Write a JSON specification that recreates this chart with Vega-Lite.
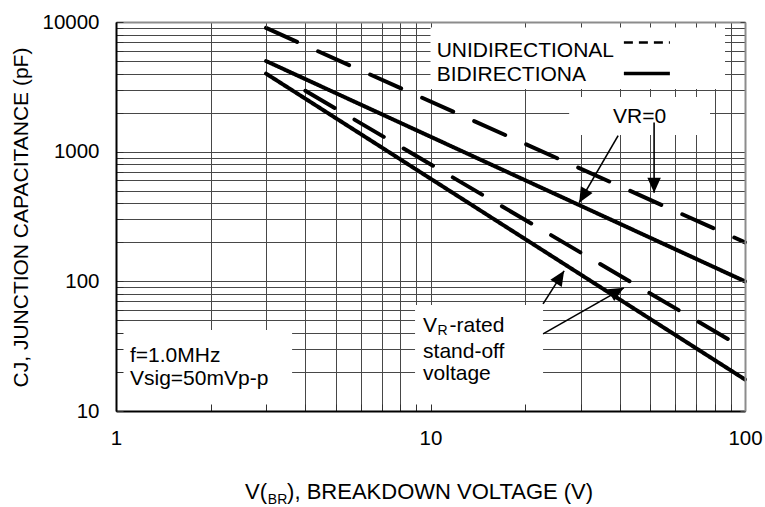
{
  "$schema": "https://vega.github.io/schema/vega-lite/v6.json",
  "width": 629,
  "height": 389,
  "autosize": "none",
  "padding": {"left": 116, "top": 22, "right": 20, "bottom": 96},
  "background": "white",
  "config": {"view": {"stroke": null}, "font": "Liberation Sans", "text": {"font": "Liberation Sans", "color": "black"}},
  "datasets": {
    "curves": [
      {"series": "Uni VR=0", "type": "dashed", "V": 3, "C": 9000},
      {"series": "Uni VR=0", "type": "dashed", "V": 100, "C": 200},
      {"series": "Bi VR=0", "type": "solid", "V": 3, "C": 5000},
      {"series": "Bi VR=0", "type": "solid", "V": 100, "C": 100},
      {"series": "Uni VR rated", "type": "dashed", "V": 4, "C": 2950},
      {"series": "Uni VR rated", "type": "dashed", "V": 100, "C": 30},
      {"series": "Bi VR rated", "type": "solid", "V": 3, "C": 4000},
      {"series": "Bi VR rated", "type": "solid", "V": 100, "C": 17.5}
    ],
    "boxes": [
      {"box": "legend", "x1": 10, "x2": 86.4, "y1": 3044, "y2": 9150},
      {"box": "vr0", "x1": 27.6, "x2": 77.4, "y1": 1345, "y2": 2640},
      {"box": "vrrated", "x1": 8.93, "x2": 22.8, "y1": 10, "y2": 65.7},
      {"box": "cond", "x1": 1, "x2": 3.63, "y1": 10, "y2": 42.1}
    ],
    "legendLines": [
      {"type": "dashed", "x1": 41.2, "x2": 57.7, "y": 6946},
      {"type": "solid", "x1": 41.2, "x2": 57.7, "y": 4002}
    ],
    "arrows": [
      {"id": "A1", "x": 39.5, "y": 1329, "x2": 29.7, "y2": 404},
      {"id": "A2", "x": 51.4, "y": 1675, "x2": 51.4, "y2": 483},
      {"id": "A3", "x": 22.8, "y": 67.0, "x2": 26.6, "y2": 120.5},
      {"id": "A4", "x": 22.8, "y": 39.3, "x2": 41.2, "y2": 89.1}
    ],
    "texts": [
      {"text": "UNIDIRECTIONAL", "x": 10.46, "y": 5373},
      {"text": "BIDIRECTIONA", "x": 10.46, "y": 3508},
      {"text": "V", "x": 9.47, "y": 40.7},
      {"text": "-rated", "x": 11.5, "y": 40.7},
      {"text": "stand-off", "x": 9.47, "y": 25.6},
      {"text": "voltage", "x": 9.47, "y": 17.35},
      {"text": "f=1.0MHz", "x": 1.108, "y": 23.9},
      {"text": "Vsig=50mVp-p", "x": 1.108, "y": 15.9}
    ],
    "centerTexts": [
      {"text": "VR=0", "x": 46.2, "y": 1664}
    ],
    "subTexts": [
      {"text": "R", "x": 10.52, "y": 38.9}
    ],
    "titleTexts": [
      {"text": "V(", "x": 2.571, "y": 2.1},
      {"text": "), BREAKDOWN VOLTAGE (V)", "x": 3.5, "y": 2.1}
    ],
    "titleSub": [
      {"text": "BR", "x": 3.04, "y": 1.93}
    ]
  },
  "resolve": {"axis": {"x": "independent", "y": "independent"}},
  "layer": [
    {
      "data": {"name": "boxes"},
      "mark": {"type": "rect", "fill": "white", "strokeWidth": 0},
      "encoding": {
        "x": {"field": "x1", "type": "quantitative", "scale": {"type": "log", "domain": [1, 100], "nice": false},
          "axis": {"orient": "bottom", "values": [1,2,3,4,5,6,7,8,9,10,20,30,40,50,60,70,80,90,100], "grid": true, "gridColor": "#484848", "gridWidth": 1, "gridOpacity": 1, "domain": false, "ticks": false, "labels": false, "title": null, "zindex": 0}},
        "x2": {"field": "x2"},
        "y": {"field": "y1", "type": "quantitative", "scale": {"type": "log", "domain": [10, 10000], "nice": false},
          "axis": {"orient": "left", "values": [10,20,30,40,50,60,70,80,90,100,200,300,400,500,600,700,800,900,1000,2000,3000,4000,5000,6000,7000,8000,9000,10000], "grid": true, "gridColor": "#484848", "gridWidth": 1, "gridOpacity": 1, "domain": false, "ticks": false, "labels": false, "title": null, "zindex": 0}},
        "y2": {"field": "y2"}
      }
    },
    {
      "data": {"name": "curves"},
      "mark": {"type": "line", "stroke": "black", "strokeWidth": 4, "strokeCap": "round"},
      "encoding": {
        "x": {"field": "V", "type": "quantitative", "scale": {"type": "log", "domain": [1, 100], "nice": false},
          "axis": {"orient": "top", "values": [1,2,3,4,5,6,7,8,9,10,20,30,40,50,60,70,80,90,100], "grid": false, "domain": true, "domainColor": "#8c8c8c", "domainWidth": 2, "ticks": true, "tickSize": -5, "tickColor": "#404040", "tickWidth": 1, "labels": false, "title": null, "zindex": 1}},
        "y": {"field": "C", "type": "quantitative", "scale": {"type": "log", "domain": [10, 10000], "nice": false},
          "axis": {"orient": "right", "values": [10,20,30,40,50,60,70,80,90,100,200,300,400,500,600,700,800,900,1000,2000,3000,4000,5000,6000,7000,8000,9000,10000], "grid": false, "domain": true, "domainColor": "#8c8c8c", "domainWidth": 2, "ticks": true, "tickSize": -5, "tickColor": "#404040", "tickWidth": 1, "labels": false, "title": null, "zindex": 1}},
        "detail": {"field": "series", "type": "nominal"},
        "strokeDash": {"field": "type", "type": "nominal", "scale": {"domain": ["dashed", "solid"], "range": [[34, 23], [1, 0]]}, "legend": null}
      }
    },
    {
      "data": {"name": "legendLines"},
      "transform": [{"filter": "datum.type == 'dashed'"}],
      "mark": {"type": "rule", "stroke": "black", "strokeWidth": 2.5, "strokeDash": [9, 6]},
      "encoding": {
        "x": {"field": "x1", "type": "quantitative", "scale": {"type": "log", "domain": [1, 100], "nice": false}, "axis": null},
        "x2": {"field": "x2"},
        "y": {"field": "y", "type": "quantitative", "scale": {"type": "log", "domain": [10, 10000], "nice": false}, "axis": null}
      }
    },
    {
      "data": {"name": "legendLines"},
      "transform": [{"filter": "datum.type == 'solid'"}],
      "mark": {"type": "rule", "stroke": "black", "strokeWidth": 3.5},
      "encoding": {
        "x": {"field": "x1", "type": "quantitative", "scale": {"type": "log", "domain": [1, 100], "nice": false}, "axis": null},
        "x2": {"field": "x2"},
        "y": {"field": "y", "type": "quantitative", "scale": {"type": "log", "domain": [10, 10000], "nice": false}, "axis": null}
      }
    },
    {
      "data": {"name": "arrows"},
      "mark": {"type": "rule", "stroke": "black", "strokeWidth": 1.6},
      "encoding": {
        "x": {"field": "x", "type": "quantitative", "scale": {"type": "log", "domain": [1, 100], "nice": false}, "axis": null},
        "x2": {"field": "x2"},
        "y": {"field": "y", "type": "quantitative", "scale": {"type": "log", "domain": [10, 10000], "nice": false}, "axis": null},
        "y2": {"field": "y2"}
      }
    },
    {
      "data": {"name": "arrows"},
      "transform": [{"filter": "datum.id == 'A1'"}],
      "mark": {"type": "point", "shape": "M0,0L0.45,1L-0.45,1Z", "filled": true, "color": "black", "opacity": 1, "size": 900, "angle": 210},
      "encoding": {
        "x": {"field": "x2", "type": "quantitative", "scale": {"type": "log", "domain": [1, 100], "nice": false}, "axis": null},
        "y": {"field": "y2", "type": "quantitative", "scale": {"type": "log", "domain": [10, 10000], "nice": false}, "axis": null}
      }
    },
    {
      "data": {"name": "arrows"},
      "transform": [{"filter": "datum.id == 'A2'"}],
      "mark": {"type": "point", "shape": "M0,0L0.45,1L-0.45,1Z", "filled": true, "color": "black", "opacity": 1, "size": 900, "angle": 180},
      "encoding": {
        "x": {"field": "x2", "type": "quantitative", "scale": {"type": "log", "domain": [1, 100], "nice": false}, "axis": null},
        "y": {"field": "y2", "type": "quantitative", "scale": {"type": "log", "domain": [10, 10000], "nice": false}, "axis": null}
      }
    },
    {
      "data": {"name": "arrows"},
      "transform": [{"filter": "datum.id == 'A3'"}],
      "mark": {"type": "point", "shape": "M0,0L0.45,1L-0.45,1Z", "filled": true, "color": "black", "opacity": 1, "size": 900, "angle": 32.5},
      "encoding": {
        "x": {"field": "x2", "type": "quantitative", "scale": {"type": "log", "domain": [1, 100], "nice": false}, "axis": null},
        "y": {"field": "y2", "type": "quantitative", "scale": {"type": "log", "domain": [10, 10000], "nice": false}, "axis": null}
      }
    },
    {
      "data": {"name": "arrows"},
      "transform": [{"filter": "datum.id == 'A4'"}],
      "mark": {"type": "point", "shape": "M0,0L0.45,1L-0.45,1Z", "filled": true, "color": "black", "opacity": 1, "size": 900, "angle": 60.4},
      "encoding": {
        "x": {"field": "x2", "type": "quantitative", "scale": {"type": "log", "domain": [1, 100], "nice": false}, "axis": null},
        "y": {"field": "y2", "type": "quantitative", "scale": {"type": "log", "domain": [10, 10000], "nice": false}, "axis": null}
      }
    },
    {
      "data": {"name": "texts"},
      "mark": {"type": "text", "align": "left", "baseline": "alphabetic", "fontSize": 21, "font": "Liberation Sans", "color": "black"},
      "encoding": {
        "x": {"field": "x", "type": "quantitative", "scale": {"type": "log", "domain": [1, 100], "nice": false},
          "axis": {"orient": "bottom", "values": [1,2,3,4,5,6,7,8,9,10,20,30,40,50,60,70,80,90,100], "grid": false, "domain": true, "domainColor": "black", "domainWidth": 2, "ticks": true, "tickSize": -7, "tickColor": "#303030", "tickWidth": 1, "labels": true, "labelExpr": "indexof([1,10,100], datum.value) >= 0 ? format(datum.value, 'd') : ''", "labelFlush": false, "labelBound": false, "labelOverlap": false, "labelFont": "Liberation Sans", "labelFontSize": 20.5, "labelColor": "black", "labelPadding": 24, "title": null, "zindex": 1}},
        "y": {"field": "y", "type": "quantitative", "scale": {"type": "log", "domain": [10, 10000], "nice": false},
          "axis": {"orient": "left", "values": [10,20,30,40,50,60,70,80,90,100,200,300,400,500,600,700,800,900,1000,2000,3000,4000,5000,6000,7000,8000,9000,10000], "grid": false, "domain": true, "domainColor": "black", "domainWidth": 2, "ticks": true, "tickSize": -7, "tickColor": "#303030", "tickWidth": 1, "labels": true, "labelExpr": "indexof([10,100,1000,10000], datum.value) >= 0 ? format(datum.value, 'd') : ''", "labelFlush": false, "labelBound": false, "labelOverlap": false, "labelFont": "Liberation Sans", "labelFontSize": 20.5, "labelColor": "black", "labelPadding": 24, "title": "CJ, JUNCTION CAPACITANCE (pF)", "titleFont": "Liberation Sans", "titleFontSize": 21, "titleFontWeight": "normal", "titleColor": "black", "titleX": -95, "titleY": 195, "titleAngle": -90, "titleAlign": "center", "titleBaseline": "middle", "zindex": 1}},
        "text": {"field": "text", "type": "nominal"}
      }
    },
    {
      "data": {"name": "centerTexts"},
      "mark": {"type": "text", "align": "center", "baseline": "alphabetic", "fontSize": 21, "font": "Liberation Sans", "color": "black"},
      "encoding": {
        "x": {"field": "x", "type": "quantitative", "scale": {"type": "log", "domain": [1, 100], "nice": false}, "axis": null},
        "y": {"field": "y", "type": "quantitative", "scale": {"type": "log", "domain": [10, 10000], "nice": false}, "axis": null},
        "text": {"field": "text", "type": "nominal"}
      }
    },
    {
      "data": {"name": "subTexts"},
      "mark": {"type": "text", "align": "left", "baseline": "alphabetic", "fontSize": 14, "font": "Liberation Sans", "color": "black"},
      "encoding": {
        "x": {"field": "x", "type": "quantitative", "scale": {"type": "log", "domain": [1, 100], "nice": false}, "axis": null},
        "y": {"field": "y", "type": "quantitative", "scale": {"type": "log", "domain": [10, 10000], "nice": false}, "axis": null},
        "text": {"field": "text", "type": "nominal"}
      }
    },
    {
      "data": {"name": "titleTexts"},
      "mark": {"type": "text", "align": "left", "baseline": "alphabetic", "fontSize": 22, "font": "Liberation Sans", "color": "black"},
      "encoding": {
        "x": {"field": "x", "type": "quantitative", "scale": {"type": "log", "domain": [1, 100], "nice": false}, "axis": null},
        "y": {"field": "y", "type": "quantitative", "scale": {"type": "log", "domain": [10, 10000], "nice": false}, "axis": null},
        "text": {"field": "text", "type": "nominal"}
      }
    },
    {
      "data": {"name": "titleSub"},
      "mark": {"type": "text", "align": "left", "baseline": "alphabetic", "fontSize": 14, "font": "Liberation Sans", "color": "black"},
      "encoding": {
        "x": {"field": "x", "type": "quantitative", "scale": {"type": "log", "domain": [1, 100], "nice": false}, "axis": null},
        "y": {"field": "y", "type": "quantitative", "scale": {"type": "log", "domain": [10, 10000], "nice": false}, "axis": null},
        "text": {"field": "text", "type": "nominal"}
      }
    }
  ]
}
